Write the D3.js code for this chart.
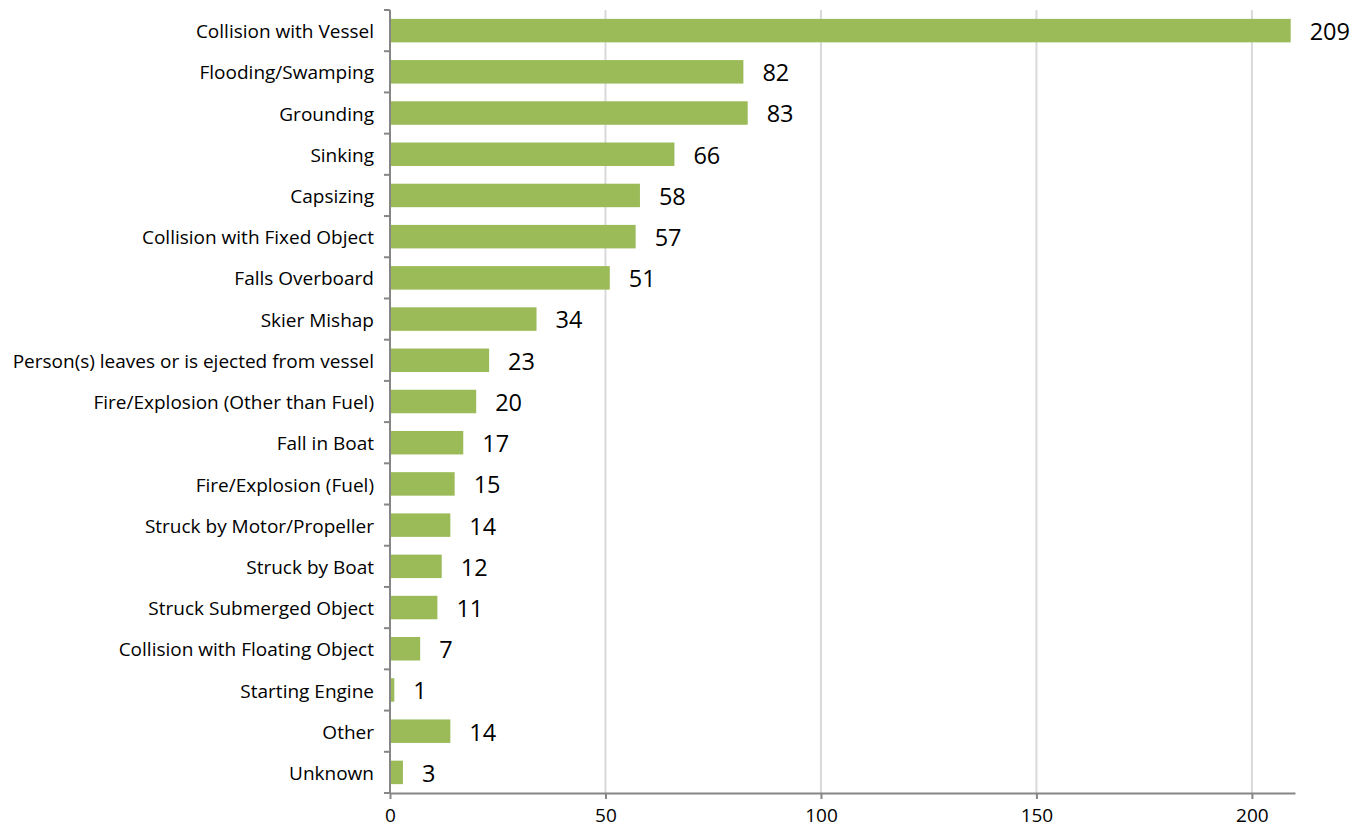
<!DOCTYPE html>
<html>
<head>
<meta charset="utf-8">
<script src="https://cdn.jsdelivr.net/npm/d3@7"></script>
<style>
  body { margin: 0; background: #fff; }
  text { font-family: "Open Sans", "Noto Sans", sans-serif; }
</style>
</head>
<body>
<div id="chart"></div>
<script>
var categories = [
    "Collision with Vessel",
    "Flooding/Swamping",
    "Grounding",
    "Sinking",
    "Capsizing",
    "Collision with Fixed Object",
    "Falls Overboard",
    "Skier Mishap",
    "Person(s) leaves or is ejected from vessel",
    "Fire/Explosion (Other than Fuel)",
    "Fall in Boat",
    "Fire/Explosion (Fuel)",
    "Struck by Motor/Propeller",
    "Struck by Boat",
    "Struck Submerged Object",
    "Collision with Floating Object",
    "Starting Engine",
    "Other",
    "Unknown"
];
var counts = [209, 82, 83, 66, 58, 57, 51, 34, 23, 20, 17, 15, 14, 12, 11, 7, 1, 14, 3];
var xTicks = [0, 50, 100, 150, 200];

var svgWidth = 1364;
var svgHeight = 830;

var margin = { top: 10, right: 69, bottom: 37, left: 390 };

var chartWidth = svgWidth - margin.left - margin.right;
var chartHeight = svgHeight - margin.top - margin.bottom;

var svg = d3.select("#chart")
    .append("svg")
    .attr("width", svgWidth)
    .attr("height", svgHeight);

var chartGroup = svg.append("g")
    .attr("transform", `translate(${margin.left}, ${margin.top})`);

var xScale = d3.scaleLinear()
    .domain([0, 210])
    .range([0, chartWidth]);

var yScale = d3.scaleBand()
    .domain(categories)
    .range([0, chartHeight])
    .paddingInner(0.43)
    .paddingOuter(0.215);

// gridlines
chartGroup.selectAll("line.grid")
    .data(xTicks.slice(1))
    .enter()
    .append("line")
    .attr("class", "grid")
    .attr("x1", d => xScale(d))
    .attr("x2", d => xScale(d))
    .attr("y1", 0)
    .attr("y2", chartHeight)
    .attr("stroke", "#d9d9d9")
    .attr("stroke-width", 2);

// bars
chartGroup.selectAll("rect.bar")
    .data(counts)
    .enter()
    .append("rect")
    .attr("class", "bar")
    .attr("x", 0)
    .attr("y", (d, i) => yScale(categories[i]))
    .attr("width", d => xScale(d))
    .attr("height", yScale.bandwidth())
    .attr("fill", "#9bbb59");

// value labels
chartGroup.selectAll("text.value")
    .data(counts)
    .enter()
    .append("text")
    .attr("class", "value")
    .attr("x", d => xScale(d) + 19)
    .attr("y", (d, i) => yScale(categories[i]) + yScale.bandwidth() / 2)
    .attr("dy", "0.4em")
    .attr("font-size", 23.5)
    .attr("fill", "#000")
    .text(d => d);

// x axis
var xAxis = chartGroup.append("g")
    .attr("transform", `translate(0, ${chartHeight})`)
    .call(d3.axisBottom(xScale).tickValues(xTicks).tickSize(6).tickSizeOuter(0));

xAxis.select(".domain").attr("stroke", "#868686").attr("stroke-width", 2);
xAxis.selectAll(".tick line").attr("stroke", "#868686").attr("stroke-width", 2);
xAxis.selectAll(".tick text")
    .attr("font-size", 19)
    .attr("fill", "#000")
    .attr("y", 16)
    .attr("font-family", "Open Sans, sans-serif");

// y axis with boundary ticks
var yAxis = chartGroup.append("g");

yAxis.append("line")
    .attr("x1", 0).attr("x2", 0)
    .attr("y1", 0).attr("y2", chartHeight)
    .attr("stroke", "#868686")
    .attr("stroke-width", 2);

var boundaries = d3.range(categories.length + 1).map(i => i * chartHeight / categories.length);

yAxis.selectAll("line.ytick")
    .data(boundaries)
    .enter()
    .append("line")
    .attr("class", "ytick")
    .attr("x1", -6).attr("x2", 0)
    .attr("y1", d => d).attr("y2", d => d)
    .attr("stroke", "#868686")
    .attr("stroke-width", 2);

yAxis.selectAll("text.cat")
    .data(categories)
    .enter()
    .append("text")
    .attr("class", "cat")
    .attr("x", -16)
    .attr("y", d => yScale(d) + yScale.bandwidth() / 2)
    .attr("dy", "0.4em")
    .attr("text-anchor", "end")
    .attr("font-size", 19)
    .attr("fill", "#000")
    .text(d => d);
</script>
</body>
</html>
